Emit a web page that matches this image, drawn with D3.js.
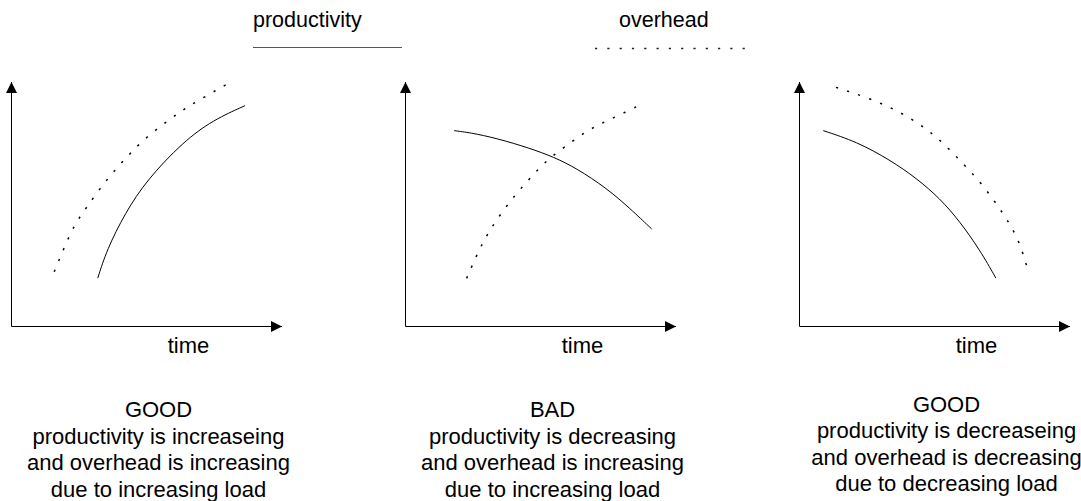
<!DOCTYPE html>
<html>
<head>
<meta charset="utf-8">
<script src="https://cdn.jsdelivr.net/npm/d3@7"></script>
<style>
  body { margin: 0; background: #fff; }
  text { font-family: "Liberation Sans", Arial, sans-serif; fill: #000; }
</style>
</head>
<body>
<div id="chart"></div>
<script>
// legend labels
var seriesNames = ["productivity", "overhead"];

// one entry per panel
var panelVerdicts = ["GOOD", "BAD", "GOOD"];
var panelNotes = [
  ["productivity is increaseing", "and overhead is increasing", "due to increasing load"],
  ["productivity is decreasing", "and overhead is increasing", "due to increasing load"],
  ["productivity is decreaseing", "and overhead is decreasing", "due to decreasing load"]
];
var axisLabel = "time";

// curves (x = time 0..100, y = level 0..100)
var productivity1 = [[31.9,19.8],[35.2,31.3],[42.0,46.4],[50.0,59.9],[63.5,75.6],[74.6,84.5],[86.3,90.3]];
var overhead1 = [[15.8,22.4],[19.1,31.3],[23.5,42.3],[28.0,49.0],[32.7,56.5],[38.3,64.0],[43.8,70.8],[50.0,77.6],[57.4,83.8],[64.1,89.2],[71.5,94.0],[79.8,99.2]];

var productivity2 = [[18.0,80.1],[23.8,79.3],[33.7,77.0],[46.0,72.9],[54.6,69.4],[63.3,64.7],[74.4,56.5],[83.0,48.3],[91.0,39.9]];
var overhead2 = [[22.6,19.7],[26.3,29.2],[30.0,37.4],[34.9,45.6],[40.5,53.8],[46.0,60.6],[52.2,68.1],[59.0,73.5],[66.4,79.7],[73.8,83.8],[81.8,87.9],[86.1,90.3]];

var productivity3 = [[8.8,80.1],[21.1,75.6],[33.5,68.1],[43.3,60.6],[51.9,52.4],[59.3,42.9],[66.7,31.3],[72.6,19.8]];
var overhead3 = [[13.5,97.8],[26.1,93.3],[38.4,87.2],[49.5,79.0],[58.1,69.4],[67.4,58.6],[75.3,46.3],[80.9,36.1],[84.0,24.7]];

var productivitySeries = [productivity1, productivity2, productivity3];
var overheadSeries = [overhead1, overhead2, overhead3];

var width = 1081, height = 501;
var panelLeft = [11.5, 405.5, 799.5];
var axisBottom = 326.5, axisTop = 82, axisLength = 270.5;
var noteTop = [417, 417, 411.5];
var lineGap = 26.5;
var dotted = "2.2,9.5";

var svg = d3.select("#chart")
  .append("svg")
    .attr("width", width)
    .attr("height", height);

svg.append("rect")
  .attr("width", width)
  .attr("height", height)
  .attr("fill", "#fff");

// arrow head for the axes
svg.append("defs")
  .append("marker")
    .attr("id", "arrow")
    .attr("markerUnits", "userSpaceOnUse")
    .attr("markerWidth", 12)
    .attr("markerHeight", 12)
    .attr("viewBox", "0 -6 12 12")
    .attr("refX", 11)
    .attr("refY", 0)
    .attr("orient", "auto")
  .append("path")
    .attr("d", "M0,-5.5L11,0L0,5.5Z")
    .attr("fill", "#000");

// legend
var legend = svg.append("g");
legend.append("text")
  .attr("x", 253)
  .attr("y", 27)
  .style("font-size", "21.5px")
  .text(seriesNames[0]);
legend.append("line")
  .attr("x1", 253).attr("x2", 402)
  .attr("y1", 47.5).attr("y2", 47.5)
  .attr("stroke", "#555")
  .attr("stroke-width", 1);
legend.append("text")
  .attr("x", 619)
  .attr("y", 27)
  .style("font-size", "21.5px")
  .text(seriesNames[1]);
legend.append("line")
  .attr("x1", 595).attr("x2", 745)
  .attr("y1", 48.5).attr("y2", 48.5)
  .attr("stroke", "#222")
  .attr("stroke-width", 1.3)
  .attr("stroke-dasharray", "2.2,10.1");

panelLeft.forEach(function(x0, i) {
  var x = d3.scaleLinear()
    .domain([0, 100])
    .range([x0, x0 + axisLength]);
  var y = d3.scaleLinear()
    .domain([0, 100])
    .range([axisBottom, axisTop]);

  var g = svg.append("g");

  // axes
  g.append("line")
    .attr("x1", x(0)).attr("y1", y(0))
    .attr("x2", x(100)).attr("y2", y(0))
    .attr("stroke", "#000")
    .attr("marker-end", "url(#arrow)");
  g.append("line")
    .attr("x1", x(0)).attr("y1", y(0))
    .attr("x2", x(0)).attr("y2", y(100))
    .attr("stroke", "#000")
    .attr("marker-end", "url(#arrow)");

  var line = d3.line()
    .x(function(d) { return x(d[0]); })
    .y(function(d) { return y(d[1]); })
    .curve(d3.curveBasis);

  g.append("path")
    .datum(productivitySeries[i])
    .attr("fill", "none")
    .attr("stroke", "#000")
    .attr("stroke-width", 1)
    .attr("d", line);

  g.append("path")
    .datum(overheadSeries[i])
    .attr("fill", "none")
    .attr("stroke", "#000")
    .attr("stroke-width", 1.5)
    .attr("stroke-dasharray", dotted)
    .attr("d", line);

  g.append("text")
    .attr("x", x0 + 177)
    .attr("y", 353)
    .attr("text-anchor", "middle")
    .style("font-size", "22px")
    .text(axisLabel);

  // caption under each panel
  var lines = [panelVerdicts[i]].concat(panelNotes[i]);
  g.selectAll(".note")
    .data(lines)
    .enter()
    .append("text")
      .attr("class", "note")
      .attr("x", x0 + 147)
      .attr("y", function(d, k) { return noteTop[i] + k * lineGap; })
      .attr("text-anchor", "middle")
      .style("font-size", "22px")
      .text(function(d) { return d; });
});
</script>
</body>
</html>
